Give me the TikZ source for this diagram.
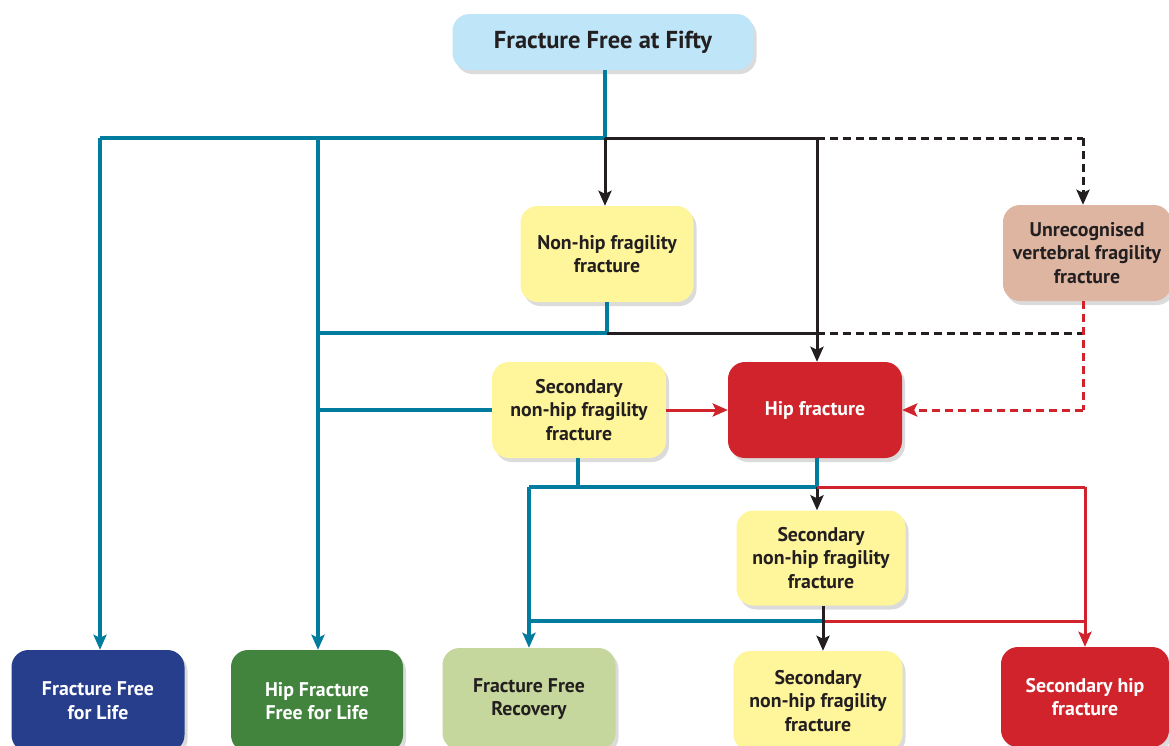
\documentclass[tikz,border=0pt]{standalone}
\usepackage{fontspec}
\setmainfont{PT Sans}
\usetikzlibrary{arrows.meta,shadows,calc}
\definecolor{tealc}{RGB}{0,124,158}
\definecolor{redc}{RGB}{208,35,43}
\definecolor{blackc}{RGB}{35,31,32}
\definecolor{yellowc}{RGB}{255,245,155}
\definecolor{skyc}{RGB}{190,229,248}
\definecolor{tanc}{RGB}{221,181,161}
\definecolor{navyc}{RGB}{38,62,140}
\definecolor{greenc}{RGB}{66,132,62}
\definecolor{lgreenc}{RGB}{197,215,156}
\tikzset{
  box/.style={rectangle, rounded corners=17pt, align=center, inner sep=0pt,
    font=\fontsize{19.8}{23.8}\selectfont\bfseries, text=blackc,
    drop shadow={opacity=0.28, shadow xshift=3pt, shadow yshift=-4pt}},
  tline/.style={draw=tealc, line width=3.3pt},
  kline/.style={draw=blackc, line width=3pt},
  rline/.style={draw=redc, line width=3pt},
  dsh/.style={dash pattern=on 8pt off 5pt},
  arr/.style={-{Stealth[length=15pt,width=13pt,inset=3pt]}},
}
\begin{document}
\begin{tikzpicture}[x=1pt,y=-1pt]
\useasboundingbox (0,0) rectangle (1169,745);
\clip (0,0) rectangle (1169,745);
\fill[white] (0,0) rectangle (1169,745);

% nodes
\node[box, fill=skyc, minimum width=301pt, minimum height=56pt,
  font=\fontsize{24.5}{28}\selectfont\bfseries] (title) at (603,42) {Fracture Free at Fifty};
\node[box, fill=yellowc, minimum width=173pt, minimum height=96pt] (nonhip) at (607,254) {Non-hip fragility\\fracture};
\node[box, fill=tanc, minimum width=168pt, minimum height=96pt] (unrec) at (1087,253) {Unrecognised\\vertebral fragility\\fracture};
\node[box, fill=yellowc, minimum width=174pt, minimum height=96pt] (sec1) at (579,410) {Secondary\\non-hip fragility\\fracture};
\node[box, fill=redc, text=white, minimum width=174pt, minimum height=96pt] (hip) at (815,410) {Hip fracture};
\node[box, fill=yellowc, minimum width=169pt, minimum height=95pt] (sec2) at (821,558) {Secondary\\non-hip fragility\\fracture};
\node[box, fill=navyc, text=white, minimum width=173pt, minimum height=102pt] (ffl) at (98,701) {Fracture Free\\for Life};
\node[box, fill=greenc, text=white, minimum width=172pt, minimum height=102pt] (hffl) at (317,701) {Hip Fracture\\Free for Life};
\node[box, fill=lgreenc, minimum width=173pt, minimum height=102pt] (ffr) at (529,699) {Fracture Free\\Recovery};
\node[box, fill=yellowc, minimum width=169pt, minimum height=100pt] (sec3) at (818,701) {Secondary\\non-hip fragility\\fracture};
\node[box, fill=redc, text=white, minimum width=168pt, minimum height=100pt] (shf) at (1085,697) {Secondary hip\\fracture};

% junction coordinates
\coordinate (j0) at (605,138);
\coordinate (jA) at (100,138);
\coordinate (jB) at (318,138);
\coordinate (jC) at (817,138);
\coordinate (jD) at (1083,138);
\coordinate (m0) at (607,333);
\coordinate (m1) at (320,333);
\coordinate (m2) at (817,333);
\coordinate (m3) at (1083,333);
\coordinate (r0) at (1083,410);
\coordinate (s1) at (320,410);
\coordinate (p0) at (578,487);
\coordinate (p1) at (529,487);
\coordinate (p2) at (817,487);
\coordinate (p3) at (1085,487);
\coordinate (q0) at (529,621);
\coordinate (q1) at (823,621);
\coordinate (q2) at (1085,621);

% teal from title
\draw[tline] (title.south -| j0) -- (j0);
\draw[tline] (j0) -- (jA);
\draw[tline, arr] (jA) -- (jA |- ffl.north);
\draw[tline, arr] (jB) -- (jB |- hffl.north);
% black top branches
\draw[kline] (j0) -- (jC);
\draw[kline, arr] (j0) -- (j0 |- nonhip.north);
\draw[kline, arr] (jC) -- (jC |- hip.north);
\draw[kline, dsh] (jC) -- (jD);
\draw[kline, dsh, arr] (jD) -- (jD |- unrec.north);
% from non-hip
\draw[tline] (nonhip.south -| m0) -- (m0) -- (m1);
\draw[kline] (m0) -- (m2);
\draw[kline, dsh] (m2) -- (m3);
% unrecognised to hip
\draw[rline, dsh] (unrec.south -| m3) -- (r0);
\draw[rline, dsh, arr] (r0) -- (hip.east);
% secondary 1
\draw[tline] (s1) -- (sec1.west);
\draw[rline, arr] (sec1.east) -- (hip.west);
\draw[tline] (sec1.south -| p0) -- (p0);
\draw[tline] (p1) -- (p2);
\draw[tline] (hip.south -| p2) -- (p2);
\draw[tline, arr] (p1) -- (p1 |- ffr.north);
\draw[kline, arr] (p2) -- (p2 |- sec2.north);
\draw[rline] (p2) -- (p3);
\draw[rline, arr] (p3) -- (p3 |- shf.north);
% secondary 2
\draw[tline] (q0) -- (q1);
\draw[rline] (q1) -- (q2);
\draw[kline, arr] (sec2.south -| q1) -- (q1 |- sec3.north);
\end{tikzpicture}
\end{document}
